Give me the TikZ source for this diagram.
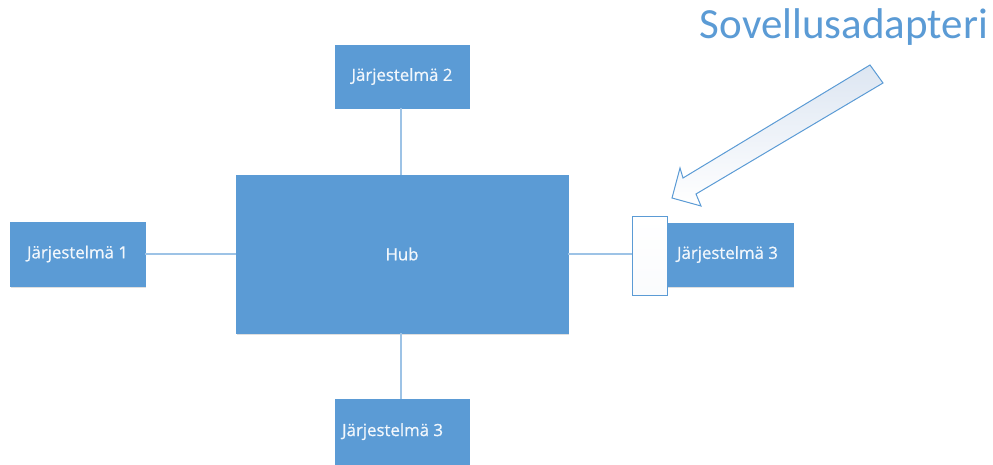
\documentclass[tikz,border=0pt]{standalone}
\usepackage{fontspec}
\setmainfont{Carlito}
\newfontfamily\labelfont[FakeBold=0.7]{Open Sans}
\usetikzlibrary{shadows}
\definecolor{boxblue}{HTML}{5B9BD5}
\definecolor{edgeblue}{HTML}{9DC3E6}
\definecolor{titleblue}{HTML}{5B9BD5}
\definecolor{paleblue}{HTML}{DDE6F2}
\begin{document}
\begin{tikzpicture}[x=1pt,y=-1pt,
  sysbox/.style={fill=boxblue, draw=boxblue, text=white!92!boxblue, font=\labelfont\fontsize{16.8}{19}\selectfont,
    drop shadow={shadow xshift=1pt, shadow yshift=-1.5pt, opacity=0.25}},
  link/.style={draw=edgeblue, line width=1.3pt}]
\useasboundingbox (0,0) rectangle (993,465);

% Systems and hub
\path[sysbox] (10,222) rectangle (145,286) node[midway] (s1) {Järjestelmä 1};
\path[sysbox] (335,45) rectangle (469,108) node[midway] (s2) {Järjestelmä 2};
\path[sysbox] (236,175) rectangle (568,333) node[midway] (hub) {Hub};
\path[sysbox] (335,399) rectangle (469,475) node[pos=0.43] (s3b) {Järjestelmä 3};
\path[sysbox] (640,223) rectangle (793,286) node[midway, xshift=11pt] (s3r) {Järjestelmä 3};

% Named anchor points on the boxes
\coordinate (s1e) at (145,254);
\coordinate (hubw) at (236,254);
\coordinate (hubn) at (401,175);
\coordinate (s2s) at (401,108);
\coordinate (hubs) at (401,333);
\coordinate (s3bn) at (401,399);
\coordinate (hube) at (568,254);

% Adapter in front of the right-hand system
\node[draw=boxblue, line width=1pt, top color=white, bottom color=white!85!paleblue,
  minimum width=35pt, minimum height=78pt, inner sep=0pt] (adapter) at (649.5,256) {};

% Connectors
\draw[link] (s1e) -- (hubw);
\draw[link] (s2s) -- (hubn);
\draw[link] (hubs) -- (s3bn);
\draw[link] (hube) -- (adapter.west |- hube);

% Block arrow pointing at the adapter
\draw[draw=boxblue, line width=1pt, left color=paleblue, right color=white, shading angle=0]
  (883,83) -- (696,194) -- (701,206) -- (672,198) -- (680,168) -- (683,178) -- (870,65) -- cycle;

% Label for the arrow
\node[text=titleblue, font=\fontsize{43}{46}\selectfont, anchor=center] (title) at (844,27) {Sovellusadapteri};
\end{tikzpicture}
\end{document}
